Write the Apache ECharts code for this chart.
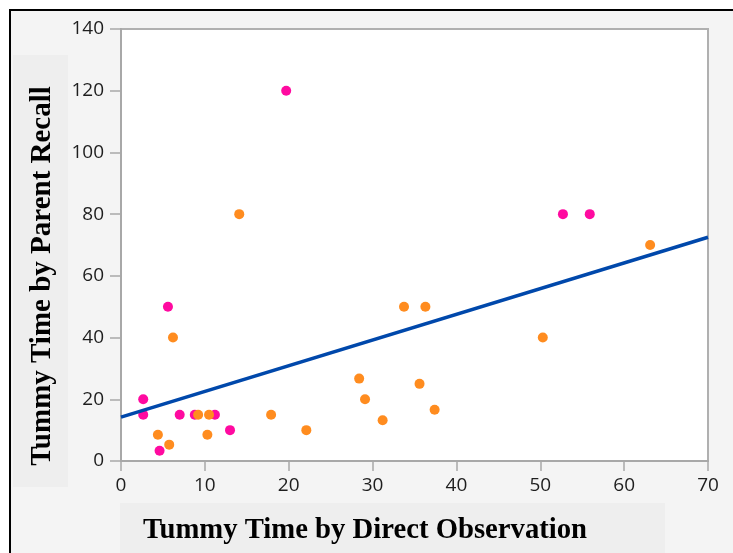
<!DOCTYPE html>
<html>
<head>
<meta charset="utf-8">
<script src="https://cdn.jsdelivr.net/npm/echarts@6/dist/echarts.min.js"></script>
<style>html,body{margin:0;padding:0;background:#fff}#c{width:733px;height:553px}</style>
</head>
<body>
<div id="c"></div>
<script>
// Data
const orangeX = [14.1, 6.2, 4.4, 5.75, 9.2, 10.5, 10.3, 17.9, 22.1, 28.4, 29.1, 31.2, 33.75, 35.6, 36.3, 37.4, 50.3, 63.1];
const orangeY = [80, 40, 8.5, 5.3, 15, 15, 8.5, 15, 10, 26.7, 20, 13.2, 50, 25, 50, 16.6, 40, 70];
const pinkX = [19.7, 52.7, 55.9, 5.6, 2.65, 2.65, 4.6, 7.0, 8.8, 11.2, 13.0];
const pinkY = [120, 80, 80, 50, 20, 15, 3.3, 15, 15, 15, 10];
const fitX = [0, 70];
const fitY = [14.2, 72.5];
const xTitle = 'Tummy Time by Direct Observation';
const yTitle = 'Tummy Time by Parent Recall';

const zip = (a, b) => a.map((v, i) => [v, b[i]]);
const chart = echarts.init(document.getElementById('c'));
const tickFont = {fontFamily: 'Open Sans', fontSize: 19, color: '#1e1e1e'};
chart.setOption({
  backgroundColor: '#ffffff',
  animation: false,
  graphic: [
    {type: 'rect', z: -100, shape: {x: 10, y: 10, width: 740, height: 560},
     style: {fill: '#f4f4f4', stroke: '#000', lineWidth: 2}},
    {type: 'rect', z: -90, shape: {x: 13, y: 55, width: 55, height: 432}, style: {fill: '#eeeeee'}},
    {type: 'rect', z: -90, shape: {x: 120, y: 503, width: 545, height: 60}, style: {fill: '#eeeeee'}},
    {type: 'text', z: 100, x: 43, y: 276, rotation: Math.PI / 2,
     style: {text: yTitle, font: 'bold 29px "Liberation Serif"', fill: '#000', align: 'center', verticalAlign: 'middle'}},
    {type: 'text', z: 100, x: 365, y: 531,
     style: {text: xTitle, font: 'bold 28.7px "Liberation Serif"', fill: '#000', align: 'center', verticalAlign: 'middle'}}
  ],
  grid: {left: 121, right: 25, top: 29, bottom: 92, show: true, backgroundColor: '#ffffff', borderColor: '#b0b0b0', borderWidth: 2},
  xAxis: {
    type: 'value', min: 0, max: 70, interval: 10,
    axisLine: {show: true, lineStyle: {color: '#a8a8a8', width: 2}},
    axisTick: {show: true, length: 10, lineStyle: {color: '#a8a8a8', width: 1.5}},
    axisLabel: Object.assign({margin: 15}, tickFont),
    splitLine: {show: false}
  },
  yAxis: {
    type: 'value', min: 0, max: 140, interval: 20,
    axisLine: {show: true, lineStyle: {color: '#a8a8a8', width: 2}},
    axisTick: {show: true, length: 11, lineStyle: {color: '#a8a8a8', width: 1.5}},
    axisLabel: Object.assign({margin: 17}, tickFont),
    splitLine: {show: false}
  },
  series: [
    {type: 'scatter', data: zip(pinkX, pinkY), symbolSize: 10, itemStyle: {color: '#ff0aa0', opacity: 1}, z: 3},
    {type: 'scatter', data: zip(orangeX, orangeY), symbolSize: 10, itemStyle: {color: '#ff8c1f', opacity: 1}, z: 3},
    {type: 'line', data: zip(fitX, fitY), showSymbol: false, symbol: 'none', lineStyle: {color: '#0048ab', width: 3.5}, z: 4}
  ]
});
</script>
</body>
</html>
